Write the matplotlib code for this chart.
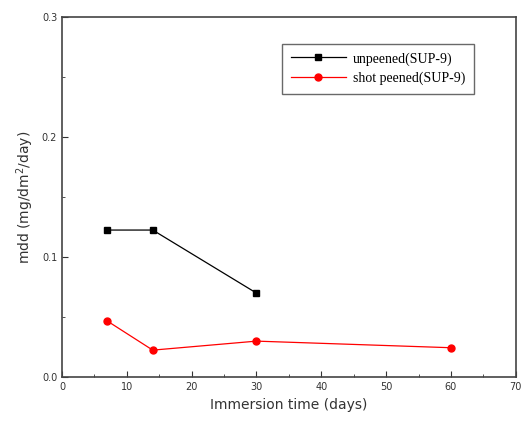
from matplotlib import pyplot as plt
from matplotlib.ticker import MultipleLocator

# immersion time (days) and mdd values
t_unpeened = [7, 14, 30]
mdd_unpeened = [0.1225, 0.1225, 0.070]
t_peened = [7, 14, 30, 60]
mdd_peened = [0.0467, 0.0225, 0.030, 0.0245]

fig = plt.figure(figsize=(5.21, 4.34), dpi=100)
ax = fig.add_axes([0.119, 0.131, 0.871, 0.830])

ax.plot(t_unpeened, mdd_unpeened, color='black', marker='s', markersize=5,
        linewidth=0.9, label='unpeened(SUP-9)')
ax.plot(t_peened, mdd_peened, color='red', marker='o', markersize=5,
        linewidth=0.9, label='shot peened(SUP-9)')

ax.set_xlim(0, 70)
ax.set_ylim(0, 0.3)
ax.xaxis.set_major_locator(MultipleLocator(10))
ax.xaxis.set_minor_locator(MultipleLocator(5))
ax.yaxis.set_major_locator(MultipleLocator(0.1))
ax.yaxis.set_minor_locator(MultipleLocator(0.05))
ax.tick_params(which='both', direction='in', labelsize=7, colors='#333333')
ax.tick_params(which='major', length=4)
ax.tick_params(which='minor', length=2)
for s in ax.spines.values():
    s.set_color('#444444')
    s.set_linewidth(1.2)

ax.set_xlabel('Immersion time (days)', fontsize=10, color='#333333')
ax.set_ylabel('mdd (mg/dm$^2$/day)', fontsize=10, color='#333333')

leg = ax.legend(loc='upper left', bbox_to_anchor=(0.47, 0.945), fancybox=False,
                edgecolor='#444444', prop={'family': 'Liberation Serif', 'size': 10},
                handlelength=4.0, borderpad=0.6, labelspacing=0.45, handletextpad=0.5)
leg.get_frame().set_linewidth(1.0)

plt.savefig('out.png')
